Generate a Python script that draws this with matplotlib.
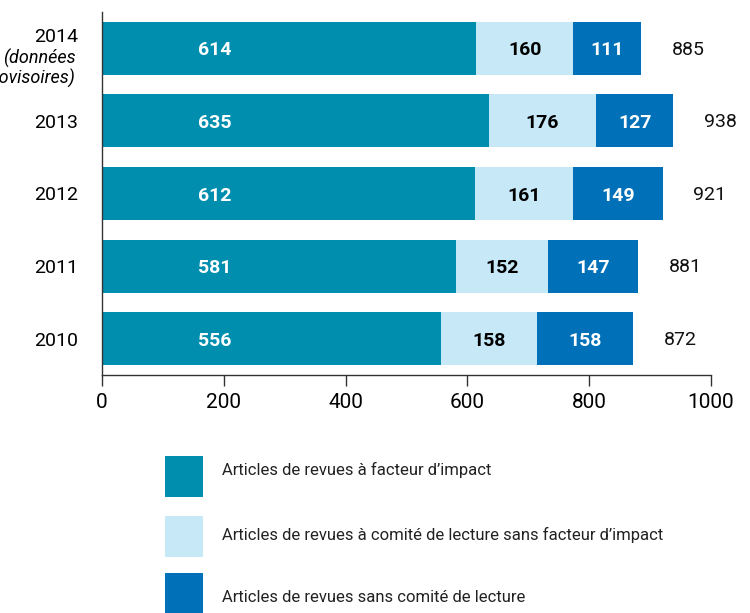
import matplotlib
matplotlib.use("Agg")
import matplotlib.pyplot as plt
from matplotlib.patches import Rectangle
import numpy as np

plt.rcParams['font.family'] = ['Roboto', 'DejaVu Sans']

years = ["2010", "2011", "2012", "2013", "2014"]
impact = [556, 581, 612, 635, 614]
peer_no_impact = [158, 152, 161, 176, 160]
no_peer = [158, 147, 149, 127, 111]
totals = [872, 881, 921, 938, 885]
series_names = [
    "Articles de revues à facteur d\u2019impact",
    "Articles de revues à comité de lecture sans facteur d\u2019impact",
    "Articles de revues sans comité de lecture",
]
colors = ["#008EAF", "#C6E8F7", "#0070B8"]
text_colors = ["white", "black", "white"]
first_label_x = 185
xticks = [0, 200, 400, 600, 800, 1000]

W, H = 750, 613
fig = plt.figure(figsize=(W/100, H/100), dpi=100)
ax = fig.add_axes([102/W, 1-375/H, (711-102)/W, (375-12)/H])

y = np.arange(len(years))
left = np.zeros(len(years))
series = [impact, peer_no_impact, no_peer]
for i, vals in enumerate(series):
    vals = np.array(vals)
    ax.barh(y, vals, left=left, height=0.73, color=colors[i], label=series_names[i])
    for j, v in enumerate(vals):
        xc = first_label_x if i == 0 else left[j] + v / 2
        ax.text(xc, y[j] - 0.03, str(v), ha='center', va='center',
                fontsize=14, fontweight='bold', color=text_colors[i])
    left = left + vals

for j, t in enumerate(totals):
    ax.annotate(str(t), xy=(t, y[j]), xytext=(22, -1), textcoords='offset points',
                ha='left', va='center', fontsize=14, color='#111111')

ax.set_xlim(0, 1000)
ax.set_ylim(-0.5, 4.5)
ax.set_xticks(xticks)
ax.set_xticklabels([str(v) for v in xticks], fontsize=15)
ax.tick_params(axis='x', length=8, width=1, pad=5, color='#333333')
ax.set_yticks(y[:-1])
ax.set_yticklabels(years[:-1], fontsize=14)
ax.tick_params(axis='y', length=0, pad=17)

for s in ['top', 'right']:
    ax.spines[s].set_visible(False)
for s in ['left', 'bottom']:
    ax.spines[s].set_color('#333333')
    ax.spines[s].set_linewidth(1)

# 2014 label with note
ax.annotate(years[-1], xy=(0, y[-1]), xycoords=('axes fraction', 'data'),
            xytext=(-17, 8), textcoords='offset points', ha='right', va='center', fontsize=14)
ax.annotate("(données", xy=(0, y[-1]), xycoords=('axes fraction', 'data'),
            xytext=(-19, -7), textcoords='offset points', ha='right', va='center',
            fontsize=13, style='italic')
ax.annotate("provisoires)", xy=(0, y[-1]), xycoords=('axes fraction', 'data'),
            xytext=(-19, -21.5), textcoords='offset points', ha='right', va='center',
            fontsize=13, style='italic')

# legend drawn manually
sq_tops = [456, 516, 573]
txt_y = [470, 535, 597]
for c, name, top, ty in zip(colors, series_names, sq_tops, txt_y):
    fig.add_artist(Rectangle((165/W, 1-(top+41)/H), 38/W, 41/H,
                             transform=fig.transFigure, facecolor=c, edgecolor='none'))
    fig.text(222/W, 1-ty/H, name, ha='left', va='center', fontsize=12, color='#222222')

fig.savefig("out.png", dpi=100)
